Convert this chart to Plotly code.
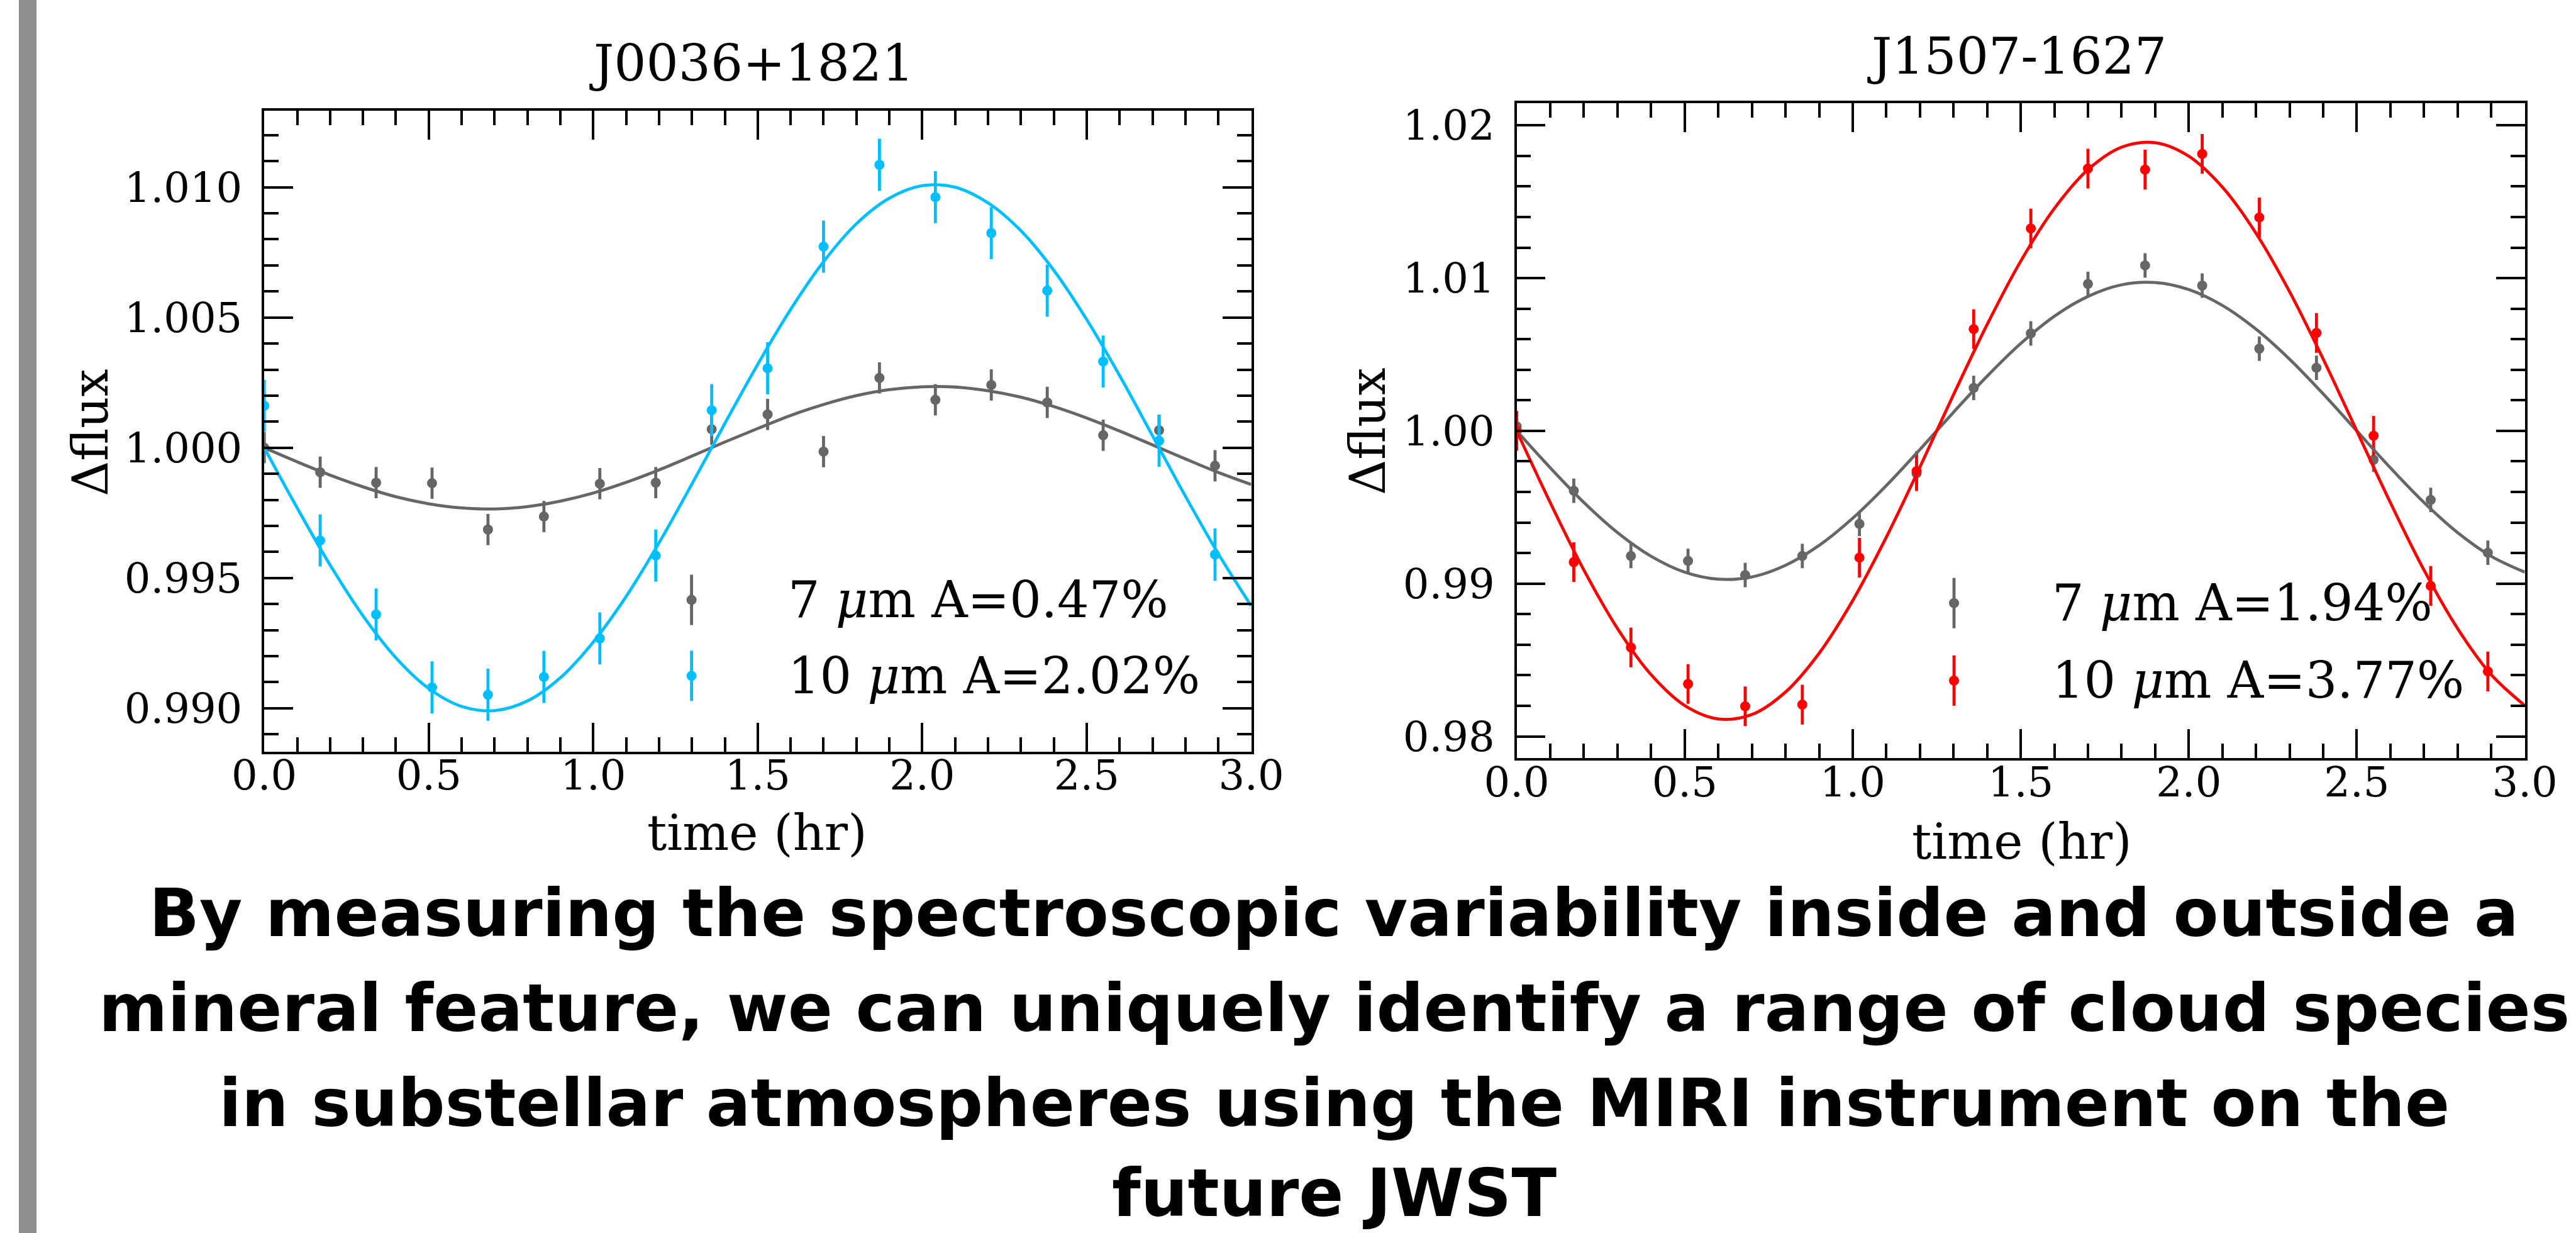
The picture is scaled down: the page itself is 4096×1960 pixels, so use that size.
import plotly.graph_objects as go

# ---------------- data ----------------
time_hr = [0.00, 0.17, 0.34, 0.51, 0.68, 0.85, 1.02, 1.19, 1.36, 1.53,
           1.70, 1.87, 2.04, 2.21, 2.38, 2.55, 2.72, 2.89]

# J0036+1821
j0036_7um = [1.00000, 0.99906, 0.99866, 0.99864, 0.99686, 0.99736, 0.99862, 0.99866, 1.00071, 1.00128,
             0.99985, 1.00268, 1.00184, 1.00241, 1.00174, 1.00048, 1.00067, 0.99931]
j0036_7um_err = [0.0006] * 18
j0036_10um = [1.00161, 0.99644, 0.99360, 0.99080, 0.99052, 0.99120, 0.99268, 0.99586, 1.00144, 1.00305,
              1.00772, 1.01086, 1.00962, 1.00824, 1.00603, 1.00331, 1.00027, 0.99590]
j0036_10um_err = [0.0010] * 18

# J1507-1627
j1507_7um = [1.00030, 0.99608, 0.99181, 0.99149, 0.99056, 0.99181, 0.99391, 0.99722, 1.00281, 1.00638,
             1.00962, 1.01083, 1.00951, 1.00538, 1.00413, 0.99811, 0.99548, 0.99202]
j1507_7um_err = [0.0008] * 18
j1507_10um = [1.00000, 0.99141, 0.98582, 0.98343, 0.98197, 0.98208, 0.99170, 0.99736, 1.00666, 1.01325,
              1.01717, 1.01710, 1.01813, 1.01397, 1.00641, 0.99968, 0.98985, 0.98425]
j1507_10um_err = [0.0013] * 18

# fitted curves, every 0.1 hr
fit_time = [0.0, 0.1, 0.2, 0.3, 0.4, 0.5, 0.6, 0.7, 0.8, 0.9, 1.0, 1.1, 1.2, 1.3, 1.4, 1.5,
            1.6, 1.7, 1.8, 1.9, 2.0, 2.1, 2.2, 2.3, 2.4, 2.5, 2.6, 2.7, 2.8, 2.9, 3.0]
j0036_7um_fit = [1.00000, 0.99946, 0.99895, 0.99850, 0.99812, 0.99785, 0.99769, 0.99765, 0.99774, 0.99795,
                 0.99826, 0.99867, 0.99915, 0.99968, 1.00022, 1.00074, 1.00124, 1.00166, 1.00200, 1.00223,
                 1.00234, 1.00233, 1.00219, 1.00194, 1.00158, 1.00114, 1.00064, 1.00011, 0.99957, 0.99905,
                 0.99859]
j0036_10um_fit = [1.00000, 0.99769, 0.99550, 0.99355, 0.99194, 0.99076, 0.99007, 0.98991, 0.99028, 0.99117,
                  0.99254, 0.99429, 0.99635, 0.99861, 1.00093, 1.00320, 1.00531, 1.00714, 1.00860, 1.00958,
                  1.01006, 1.01000, 1.00940, 1.00833, 1.00681, 1.00492, 1.00277, 1.00046, 0.99814, 0.99593,
                  0.99393]
j1507_7um_fit = [1.00000, 0.99758, 0.99531, 0.99334, 0.99179, 0.99075, 0.99029, 0.99044, 0.99120, 0.99250,
                 0.99428, 0.99642, 0.99878, 1.00122, 1.00358, 1.00572, 1.00750, 1.00880, 1.00956, 1.00971,
                 1.00925, 1.00821, 1.00666, 1.00469, 1.00242, 1.00000, 0.99758, 0.99531, 0.99334, 0.99179,
                 0.99075]
j1507_10um_fit = [1.00000, 0.99530, 0.99089, 0.98706, 0.98404, 0.98202, 0.98114, 0.98143, 0.98290, 0.98544,
                  0.98889, 0.99304, 0.99763, 1.00237, 1.00696, 1.01111, 1.01456, 1.01710, 1.01857, 1.01886,
                  1.01798, 1.01596, 1.01294, 1.00911, 1.00470, 1.00000, 0.99530, 0.99089, 0.98706, 0.98404,
                  0.98202]

titles = ["J0036+1821", "J1507-1627"]
legend_left = ["7 <i>μ</i>m A=0.47%", "10 <i>μ</i>m A=2.02%"]
legend_right = ["7 <i>μ</i>m A=1.94%", "10 <i>μ</i>m A=3.77%"]
caption_lines = [
    "By measuring the spectroscopic variability inside and outside a",
    "mineral feature, we can uniquely identify a range of cloud species",
    "in substellar atmospheres using the MIRI instrument on the",
    "future JWST",
]

GRAY = "#666666"
BLUE = "#00BFFF"
RED = "#FF0000"

# ---------------- layout helpers (pixel -> paper) ----------------
W, H = 4096, 1960
def fx(p):
    return p / W
def fy(p):
    return 1 - p / H

SERIF = "DejaVu Serif"
TICK_FS = 65.5
LAB_FS = 78
TITLE_FS = 80.5
LEG_FS = 79.5
LW = 3.7
ERR_T = 4.8
MSIZE = 16
CURVE_W = 4.8

fig = go.Figure()

def add_points(x, y, err, color, xa, ya):
    fig.add_trace(go.Scatter(
        x=x, y=y, mode="markers", xaxis=xa, yaxis=ya, showlegend=False,
        marker=dict(color=color, size=MSIZE, line=dict(width=0)),
        error_y=dict(type="data", array=err, visible=True, color=color,
                     thickness=ERR_T, width=0)))

def add_curve(x, y, color, xa, ya):
    fig.add_trace(go.Scatter(
        x=x, y=y, mode="lines", xaxis=xa, yaxis=ya, showlegend=False,
        line=dict(color=color, width=CURVE_W, shape="spline", smoothing=1.0)))

add_points(time_hr, j0036_7um, j0036_7um_err, GRAY, "x", "y")
add_points(time_hr, j0036_10um, j0036_10um_err, BLUE, "x", "y")
add_curve(fit_time, j0036_7um_fit, GRAY, "x", "y")
add_curve(fit_time, j0036_10um_fit, BLUE, "x", "y")

add_points(time_hr, j1507_7um, j1507_7um_err, GRAY, "x2", "y2")
add_points(time_hr, j1507_10um, j1507_10um_err, RED, "x2", "y2")
add_curve(fit_time, j1507_7um_fit, GRAY, "x2", "y2")
add_curve(fit_time, j1507_10um_fit, RED, "x2", "y2")

# axes geometry (pixels in the output window)
L = dict(x0=420.2, x1=1989.5, top=175.9, bot=1195.0)
R = dict(x0=2411.6, x1=4014.6, top=163.8, bot=1205.3)

def xaxis_cfg(g, anchor):
    return dict(
        domain=[fx(g["x0"]), fx(g["x1"])], anchor=anchor, range=[0, 3],
        dtick=0.5, tick0=0, tickformat=".1f",
        ticks="inside", ticklen=46, tickwidth=LW, tickcolor="black",
        minor=dict(dtick=0.1, tick0=0, ticks="inside", ticklen=23, tickwidth=LW,
                   tickcolor="black", showgrid=False),
        showline=True, linecolor="black", linewidth=LW, mirror="allticks",
        showgrid=False, zeroline=False, automargin=False,
        tickfont=dict(family=SERIF, size=TICK_FS, color="black"),
        ticklabelstandoff=-22)

def yaxis_cfg(g, anchor, rng, dt, mdt, fmt):
    return dict(
        domain=[fy(g["bot"]), fy(g["top"])], anchor=anchor, range=rng,
        dtick=dt, tick0=1.0, tickformat=fmt,
        ticks="inside", ticklen=46, tickwidth=LW, tickcolor="black",
        minor=dict(dtick=mdt, tick0=1.0, ticks="inside", ticklen=23, tickwidth=LW,
                   tickcolor="black", showgrid=False),
        showline=True, linecolor="black", linewidth=LW, mirror="allticks",
        showgrid=False, zeroline=False, automargin=False,
        tickfont=dict(family=SERIF, size=TICK_FS, color="black"),
        ticklabelstandoff=18)

annotations = []
shapes = []

# gray bar at the far left
shapes.append(dict(type="rect", xref="paper", yref="paper",
                   x0=fx(30), x1=fx(58), y0=0, y1=1,
                   fillcolor="#8f8f8f", line=dict(width=0), layer="below"))

def txt(text, x, y, size, family=SERIF, angle=0, xanchor="center", bold=False):
    annotations.append(dict(
        text=("<b>%s</b>" % text) if bold else text,
        x=fx(x), y=fy(y), xref="paper", yref="paper",
        xanchor=xanchor, yanchor="middle", showarrow=False, textangle=angle,
        font=dict(family=family, size=size, color="black")))

# titles
txt(titles[0], 1195, 99.7, TITLE_FS)
txt(titles[1], 3207, 88.9, TITLE_FS)
# axis labels
txt("time (hr)", 1204, 1323.7, LAB_FS)
txt("time (hr)", 3215, 1338, LAB_FS)
txt("Δflux", 144, 688, LAB_FS, angle=-90)
txt("Δflux", 2175, 686, LAB_FS, angle=-90)

# legends
def legend_item(mx, my, color, label, tx):
    shapes.append(dict(type="line", xref="paper", yref="paper",
                       x0=fx(mx), x1=fx(mx), y0=fy(my - 40), y1=fy(my + 40),
                       line=dict(color=color, width=ERR_T)))
    r = MSIZE / 2
    shapes.append(dict(type="circle", xref="paper", yref="paper",
                       x0=fx(mx - r), x1=fx(mx + r), y0=fy(my + r), y1=fy(my - r),
                       fillcolor=color, line=dict(width=0)))
    txt(label, tx, my, LEG_FS, xanchor="left")

legend_item(1099.6, 953.6, GRAY, legend_left[0], 1251)
legend_item(1099.6, 1074.3, BLUE, legend_left[1], 1251)
legend_item(3107, 958.7, GRAY, legend_right[0], 3261)
legend_item(3107, 1081.9, RED, legend_right[1], 3261)

# caption
cap_centers = [1451.7, 1603.2, 1753.7, 1897.0]
for line, cy in zip(caption_lines, cap_centers):
    txt(line, 2121, cy, 105, family="DejaVu Sans", bold=True)

fig.update_layout(
    width=W, height=H, margin=dict(l=0, r=0, t=0, b=0, autoexpand=False),
    paper_bgcolor="white", plot_bgcolor="white",
    showlegend=False,
    xaxis=xaxis_cfg(L, "y"),
    yaxis=yaxis_cfg(L, "x", [0.98833, 1.01294], 0.005, 0.001, ".3f"),
    xaxis2=xaxis_cfg(R, "y2"),
    yaxis2=yaxis_cfg(R, "x2", [0.97857, 1.02146], 0.01, 0.002, ".2f"),
    annotations=annotations, shapes=shapes,
)

fig.write_html("out.html")
